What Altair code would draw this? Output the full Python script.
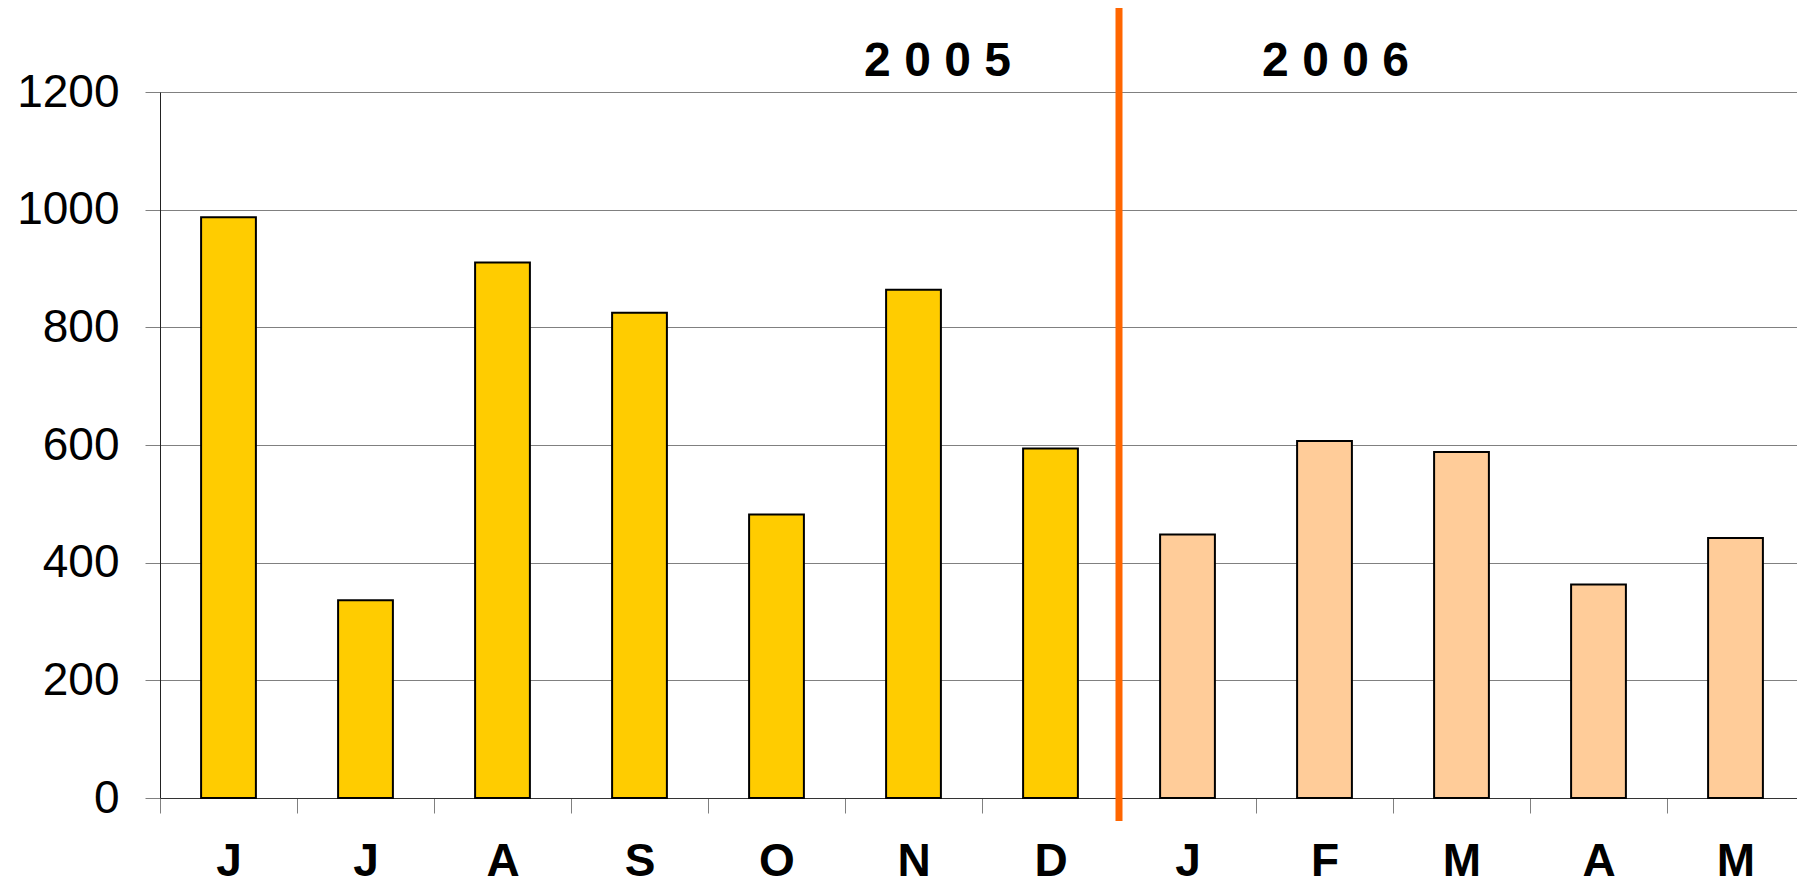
import altair as alt
import pandas as pd

# ---- data ----
months = ["Jun 2005", "Jul 2005", "Aug 2005", "Sep 2005", "Oct 2005", "Nov 2005",
          "Dec 2005", "Jan 2006", "Feb 2006", "Mar 2006", "Apr 2006", "May 2006"]
values = [987, 336, 910, 825, 482, 864, 594, 448, 607, 588, 363, 442]
years = ["2005", "2005", "2005", "2005", "2005", "2005", "2005",
         "2006", "2006", "2006", "2006", "2006"]
year_domain = ["2005", "2006"]
year_colors = ["#FFCC00", "#FFCC99"]
year_titles = ["2 0 0 5", "2 0 0 6"]
year_title_anchor = ["Nov 2005", "Feb 2006"]
separator_month = ["Jan 2006"]
separator_extent = [-39, 1347]
y_ticks = [0, 200, 400, 600, 800, 1000, 1200]

FONT = "Liberation Sans"

df = pd.DataFrame({"month": months, "value": values, "year": years})
sep_df = pd.DataFrame({"month": separator_month,
                       "lo": [separator_extent[0]], "hi": [separator_extent[1]]})
t05 = pd.DataFrame({"month": [year_title_anchor[0]], "label": [year_titles[0]]})
t06 = pd.DataFrame({"month": [year_title_anchor[1]], "label": [year_titles[1]]})

xscale = alt.Scale(domain=months, paddingInner=0.6, paddingOuter=0.3)
xcells = alt.Scale(domain=months, paddingInner=0, paddingOuter=0)
yscale = alt.Scale(domain=[0, 1200], nice=False, zero=True)

x_axis = alt.Axis(
    title=None, labelExpr="slice(datum.label, 0, 1)", labelAngle=0,
    tickBand="extent", grid=False,
    labelFont=FONT, labelFontSize=46, labelFontWeight="bold", labelColor="black",
    labelBaseline="top", labelPadding=26,
    tickSize=15, tickColor="#808080", tickWidth=1,
    domainColor="#333333", domainWidth=1,
)
y_axis = alt.Axis(
    title=None, values=y_ticks, format="d",
    labelFont=FONT, labelFontSize=46, labelColor="black", labelPadding=26,
    tickSize=15, tickColor="#808080", tickWidth=1,
    domainColor="#222222", domainWidth=1,
    grid=True, gridColor="#808080", gridWidth=1,
)

bars = alt.Chart(df).mark_bar(stroke="black", strokeWidth=2).encode(
    x=alt.X("month:N", scale=xscale, axis=None),
    y=alt.Y("value:Q", scale=yscale, axis=y_axis),
    color=alt.Color("year:N", scale=alt.Scale(domain=year_domain, range=year_colors),
                    legend=None),
)

sep = alt.Chart(sep_df).mark_rule(color="#FF6600", strokeWidth=7).encode(
    x=alt.X("month:N", scale=xcells, bandPosition=0, axis=x_axis),
    y=alt.Y("lo:Q", scale=yscale, axis=y_axis),
    y2="hi:Q",
)

title05 = alt.Chart(t05).mark_text(
    font=FONT, fontSize=48, fontWeight="bold", color="black",
    align="center", baseline="middle", dx=24,
).encode(x=alt.X("month:N", scale=xcells, axis=None),
         y=alt.value(-30), text="label:N")

title06 = alt.Chart(t06).mark_text(
    font=FONT, fontSize=48, fontWeight="bold", color="black",
    align="center", baseline="middle", dx=11,
).encode(x=alt.X("month:N", scale=xcells, axis=None),
         y=alt.value(-30), text="label:N")

chart = alt.layer(bars, sep, title05, title06).resolve_scale(
    x="independent"
).properties(
    width=1644, height=706,
    autosize=alt.AutoSizeParams(type="none"),
    padding={"left": 152, "top": 84, "right": -7, "bottom": 80},
    background="white",
).configure_view(stroke="#808080", strokeWidth=1)

chart.save("out.html", embed_options={"renderer": "svg", "actions": False})
